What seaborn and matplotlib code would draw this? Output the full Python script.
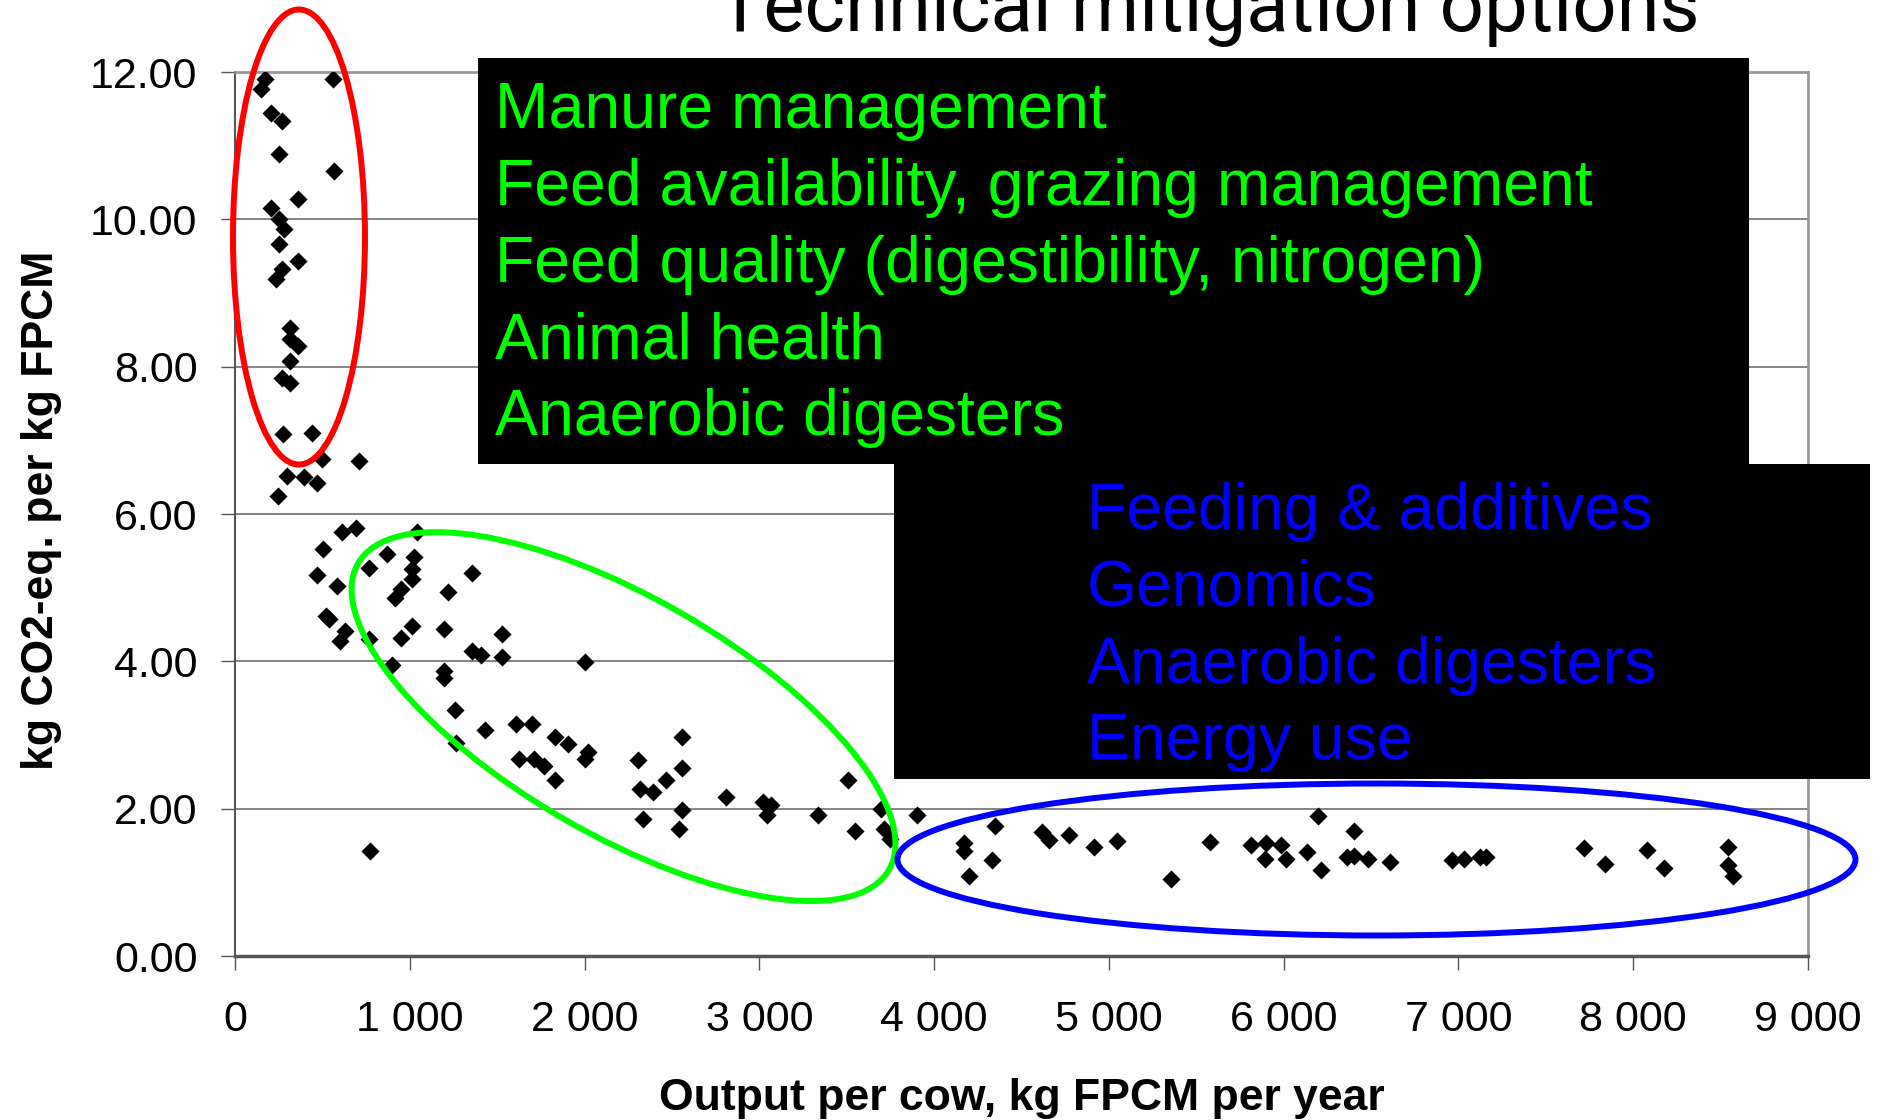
import matplotlib
matplotlib.use("Agg")
import matplotlib.pyplot as plt
import seaborn as sns
import pandas as pd
from matplotlib.patches import Ellipse, Rectangle
from matplotlib.transforms import ScaledTranslation

# dairy farms: output per cow vs emission intensity
output_per_cow = [
    171, 149, 560, 204, 267, 251, 567, 358, 204, 251, 282, 251, 362, 267, 234,
    314, 314, 362, 314, 267, 314, 272, 442, 500, 710, 299, 395, 467, 248,
    693, 611, 1042, 502, 871, 1024, 764, 1012, 1356, 471, 1012, 583, 948, 915,
    1216, 522, 540, 1012, 1198, 629, 1530, 764, 948, 598, 1356, 1407, 1530,
    897, 2002, 1198, 1198, 1259, 1433, 1606, 1700, 1267, 1833, 1905, 2019,
    2002, 1624, 1708, 1769, 1833, 2560, 2308, 2560, 2466, 2320, 2389, 2810,
    3019, 3065, 3507, 2560, 2333, 2542, 3045, 3333, 3695, 3550, 3716, 3749,
    772, 3901,
    4348, 4172, 4172, 4330, 4202, 4615, 4660, 4773, 4916, 5044, 5356, 5581,
    5815, 5901, 5987, 5893, 6014, 6134, 6194, 6213, 6363, 6401, 6401, 6484,
    6608, 6965, 7029, 7123, 7160, 7717, 7837, 8081, 8175, 8540, 8540, 8570,
]
co2_per_kg = [
    11.90, 11.77, 11.90, 11.45, 11.34, 10.89, 10.65, 10.27, 10.16, 10.00, 9.87,
    9.66, 9.44, 9.32, 9.19, 8.53, 8.37, 8.28, 8.08, 7.85, 7.78, 7.08, 7.10,
    6.75, 6.72, 6.51, 6.50, 6.42, 6.24,
    5.81, 5.75, 5.76, 5.52, 5.46, 5.42, 5.27, 5.26, 5.20, 5.17, 5.12, 5.02,
    4.98, 4.86, 4.94, 4.62, 4.57, 4.48, 4.44, 4.41, 4.37, 4.30, 4.32, 4.28,
    4.14, 4.08, 4.06, 3.95, 3.99, 3.87, 3.78, 3.34, 3.07, 3.15, 3.15, 2.89,
    2.97, 2.88, 2.77, 2.68, 2.68, 2.68, 2.58, 2.39, 2.97, 2.66, 2.55, 2.39,
    2.27, 2.23, 2.16, 2.09, 2.05, 2.39, 1.98, 1.86, 1.73, 1.91, 1.91, 2.00,
    1.70, 1.73, 1.59, 1.43, 1.92,
    1.77, 1.53, 1.43, 1.30, 1.09, 1.68, 1.57, 1.64, 1.48, 1.56, 1.05, 1.55,
    1.51, 1.53, 1.51, 1.32, 1.32, 1.41, 1.90, 1.17, 1.34, 1.70, 1.36, 1.32,
    1.28, 1.30, 1.32, 1.35, 1.35, 1.47, 1.25, 1.44, 1.20, 1.48, 1.23, 1.09,
]

x_ticks = [0, 1000, 2000, 3000, 4000, 5000, 6000, 7000, 8000, 9000]
x_tick_labels = ["0", "1 000", "2 000", "3 000", "4 000", "5 000", "6 000",
                 "7 000", "8 000", "9 000"]
y_ticks = [0, 2, 4, 6, 8, 10, 12]
y_tick_labels = ["0.00", "2.00", "4.00", "6.00", "8.00", "10.00", "12.00"]

green_options = ["Manure management",
                 "Feed availability, grazing management",
                 "Feed quality (digestibility, nitrogen)",
                 "Animal health",
                 "Anaerobic digesters"]
blue_options = ["Feeding & additives", "Genomics", "Anaerobic digesters",
                "Energy use"]

# highlight rings: data centre, size in inches, angle, colour
highlights = [
    ((366, 9.76), 1.32, 4.55, 0, "#ff0000"),
    ((2223, 3.25), 6.13, 2.37, -30, "#00ff00"),
    ((6531, 1.31), 9.58, 1.52, 0, "#0000ff"),
]

W, H = 1881, 1120

sns.set_style("white")
plt.rcParams["font.family"] = ["Liberation Sans", "DejaVu Sans"]
plt.rcParams["text.color"] = "black"
plt.rcParams["axes.labelcolor"] = "black"
plt.rcParams["xtick.labelcolor"] = "black"
plt.rcParams["ytick.labelcolor"] = "black"

df = pd.DataFrame({"output": output_per_cow, "co2": co2_per_kg})

fig = plt.figure(figsize=(W / 100, H / 100), dpi=100)
ax = fig.add_axes([235 / W, 1 - 956 / H, (1808 - 235) / W, (956 - 72) / H])

ax.grid(axis="y", color="#6e6e6e", linewidth=1.2)
ax.set_axisbelow(True)
sns.scatterplot(data=df, x="output", y="co2", marker="D", s=85,
                color="black", linewidth=0, zorder=3, ax=ax)

ax.set_xlim(0, 9000)
ax.set_ylim(0, 12)
ax.set_xticks(x_ticks)
ax.set_xticklabels(x_tick_labels)
ax.set_yticks(y_ticks)
ax.set_yticklabels(y_tick_labels)
ax.tick_params(axis="both", labelsize=31, direction="out", length=10,
               width=1, color="#555555", labelcolor="black",
               left=True, bottom=True)
ax.tick_params(axis="x", pad=22)
ax.tick_params(axis="y", pad=17)

for side in ["left", "bottom"]:
    ax.spines[side].set_color("#555555")
ax.spines["left"].set_linewidth(1.5)
ax.spines["bottom"].set_linewidth(2.5)
for side in ["top", "right"]:
    ax.spines[side].set_color("#999999")
    ax.spines[side].set_linewidth(2)

ax.set_xlabel("Output per cow, kg FPCM per year", fontsize=32,
              fontweight="bold", color="black")
ax.xaxis.set_label_coords(0.5, -0.1742)
ax.xaxis.label.set_verticalalignment("baseline")
ax.set_ylabel("kg CO2-eq. per kg FPCM", fontsize=32, fontweight="bold",
              color="black")
ax.yaxis.set_label_coords(-0.1227, 0.5045)
ax.yaxis.label.set_verticalalignment("center")

for (cx, cy), w, h, ang, col in highlights:
    ring = Ellipse((0, 0), w, h, angle=ang, fill=False, edgecolor=col,
                   linewidth=4.3, clip_on=False, zorder=5,
                   transform=fig.dpi_scale_trans
                   + ScaledTranslation(cx, cy, ax.transData))
    ax.add_artist(ring)

# black option boxes
fig.add_artist(Rectangle((478 / W, 1 - 464 / H), (1749 - 478) / W,
                         (464 - 58) / H, transform=fig.transFigure,
                         facecolor="black", edgecolor="none", zorder=5))
fig.add_artist(Rectangle((894 / W, 1 - 779 / H), (1870 - 894) / W,
                         (779 - 464) / H, transform=fig.transFigure,
                         facecolor="black", edgecolor="none", zorder=5))

for i, line in enumerate(green_options):
    fig.text(495 / W, 1 - (128 + 76.8 * i) / H, line, fontsize=46.4,
             color="#00ff00", va="baseline", ha="left", zorder=6)
for i, line in enumerate(blue_options):
    fig.text(1087 / W, 1 - (529 + 76.8 * i) / H, line, fontsize=46.4,
             color="#0000ff", va="baseline", ha="left", zorder=6)

fig.text(1208 / W, 1 - 31 / H, "Technical mitigation options", fontsize=56,
         family=["Roboto", "DejaVu Sans"], fontweight="normal",
         color="black", ha="center", va="baseline")

fig.savefig("out.png", dpi=100)
